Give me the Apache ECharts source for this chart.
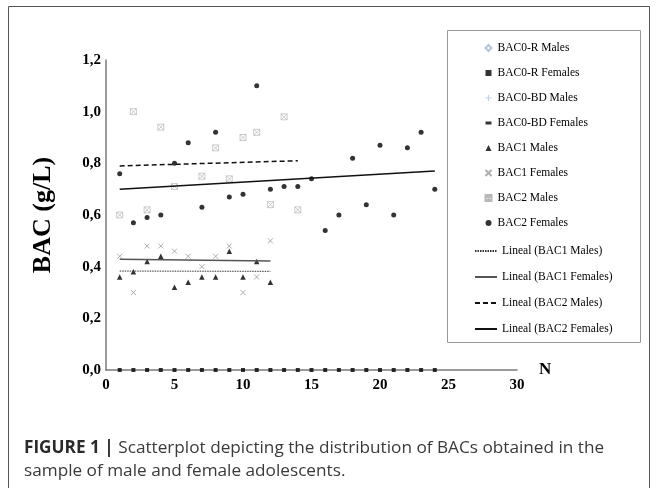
<!DOCTYPE html>
<html>
<head>
<meta charset="utf-8">
<script src="https://cdn.jsdelivr.net/npm/echarts@6/dist/echarts.min.js"></script>
<style>
  html, body { margin: 0; padding: 0; background: #fff; }
  #chart { width: 657px; height: 488px; }
</style>
</head>
<body>
<div id="chart"></div>
<script>
// N (participant index) per group
const nBac1 = [1, 2, 3, 4, 5, 6, 7, 8, 9, 10, 11, 12];
const nBac2Males = [1, 2, 3, 4, 5, 7, 8, 9, 10, 11, 12, 13, 14];
const nBac2Females = [1, 2, 3, 4, 5, 6, 7, 8, 9, 10, 11, 12, 13, 14, 15, 16, 17, 18, 19, 20, 21, 22, 23, 24];

// BAC values (g/L)
const bac0RFemales = [0, 0, 0, 0, 0, 0, 0, 0, 0, 0, 0, 0, 0, 0, 0, 0, 0, 0, 0, 0, 0, 0, 0, 0];
const bac1Males = [0.36, 0.38, 0.42, 0.44, 0.32, 0.34, 0.36, 0.36, 0.46, 0.36, 0.42, 0.34];
const bac1Females = [0.44, 0.30, 0.48, 0.48, 0.46, 0.44, 0.40, 0.44, 0.48, 0.30, 0.36, 0.50];
const bac2Males = [0.60, 1.00, 0.62, 0.94, 0.71, 0.75, 0.86, 0.74, 0.90, 0.92, 0.64, 0.98, 0.62];
const bac2Females = [0.76, 0.57, 0.59, 0.60, 0.80, 0.88, 0.63, 0.92, 0.67, 0.68, 1.10, 0.70, 0.71, 0.71,
                     0.74, 0.54, 0.60, 0.82, 0.64, 0.87, 0.60, 0.86, 0.92, 0.70];

// linear trend lines ("Lineal"), end points
const trendBac1Males = [[1, 0.383], [12, 0.382]];
const trendBac1Females = [[1, 0.429], [12, 0.422]];
const trendBac2Males = [[1, 0.79], [14, 0.81]];
const trendBac2Females = [[1, 0.70], [24, 0.77]];

const markerNames = ['BAC0-R Males', 'BAC0-R Females', 'BAC0-BD Males', 'BAC0-BD Females',
                     'BAC1 Males', 'BAC1 Females', 'BAC2 Males', 'BAC2 Females'];
const trendNames = ['Lineal (BAC1 Males)', 'Lineal (BAC1 Females)', 'Lineal (BAC2 Males)', 'Lineal (BAC2 Females)'];

const xTicks = { min: 0, max: 30, interval: 5 };
const yTicks = { min: 0, max: 1.2, interval: 0.2 };

const pts = (xs, ys) => xs.map((x, i) => [x, ys[i]]);

const serif = 'Liberation Serif';
const crossPath = 'path://M0,0L10,10M10,0L0,10';
const boxCrossPath = 'path://M0,0L10,10M10,0L0,10M0,0L10,0L10,10L0,10Z';
const legendText = { fontFamily: serif, fontSize: 11.5, color: '#000' };

const chart = echarts.init(document.getElementById('chart'));

chart.setOption({
    animation: false,
    backgroundColor: '#fff',
    grid: { left: 106, right: 140, top: 60, bottom: 118 },
    xAxis: {
        type: 'value',
        min: xTicks.min,
        max: xTicks.max,
        interval: xTicks.interval,
        name: 'N',
        nameGap: 22,
        nameTextStyle: { fontFamily: serif, fontWeight: 'bold', fontSize: 17, color: '#000', padding: [0, 0, 8, 0] },
        axisLine: { onZero: false, lineStyle: { color: '#7a7a7a', width: 1.5 } },
        axisTick: { show: false },
        splitLine: { show: false },
        axisLabel: { fontFamily: serif, fontWeight: 'bold', fontSize: 15, color: '#000', margin: 8 }
    },
    yAxis: {
        type: 'value',
        min: yTicks.min,
        max: yTicks.max,
        interval: yTicks.interval,
        name: 'BAC (g/L)',
        nameLocation: 'middle',
        nameGap: 50,
        nameTextStyle: { fontFamily: serif, fontWeight: 'bold', fontSize: 26, color: '#000' },
        axisLine: { show: true, lineStyle: { color: '#7a7a7a', width: 1.5 } },
        axisTick: { show: false },
        splitLine: { show: false },
        axisLabel: {
            fontFamily: serif, fontWeight: 'bold', fontSize: 15, color: '#000', margin: 5,
            formatter: (v) => v.toFixed(1).replace('.', ',')
        }
    },
    legend: [
        {
            orient: 'vertical',
            left: 478,
            top: 37,
            itemWidth: 6,
            itemHeight: 6,
            itemGap: 13,
            textStyle: Object.assign({ padding: [0, 0, 0, 1] }, legendText),
            data: markerNames
        },
        {
            orient: 'vertical',
            left: 469,
            top: 240,
            itemWidth: 22,
            itemHeight: 6,
            itemGap: 14,
            itemStyle: { opacity: 0 },
            textStyle: legendText,
            data: trendNames
        }
    ],
    graphic: [
        {
            type: 'rect', silent: true,
            shape: { x: 8.5, y: 6.5, width: 641, height: 500 },
            style: { fill: 'none', stroke: '#555', lineWidth: 1 }
        },
        {
            type: 'rect', silent: true,
            shape: { x: 447.5, y: 30.5, width: 193, height: 312 },
            style: { fill: 'none', stroke: '#9a9a9a', lineWidth: 1 }
        },
        {
            type: 'text', left: 24, top: 436, silent: true,
            style: {
                text: '{b|FIGURE 1 |} Scatterplot depicting the distribution of BACs obtained in the\nsample of male and female adolescents.',
                fontFamily: 'Open Sans', fontSize: 17.2, lineHeight: 23.5, fill: '#3a3a3a',
                rich: { b: { fontFamily: 'Open Sans', fontSize: 17.2, fontWeight: 'bold', fill: '#2a2a2a' } }
            }
        }
    ],
    series: [
        {
            name: markerNames[0], type: 'scatter', symbol: 'diamond', symbolSize: 5, data: [],
            itemStyle: { color: '#fff', borderColor: '#9fb6d6', borderWidth: 1 }
        },
        {
            name: markerNames[1], type: 'scatter', symbol: 'rect', symbolSize: 4,
            data: pts(nBac2Females, bac0RFemales), itemStyle: { color: '#000' }
        },
        {
            name: markerNames[2], type: 'scatter', symbol: 'path://M4,0L6,0L6,4L10,4L10,6L6,6L6,10L4,10L4,6L0,6L0,4L4,4Z',
            symbolSize: 6, data: [], itemStyle: { color: '#b4c6e0' }
        },
        {
            name: markerNames[3], type: 'scatter', symbol: 'path://M0,0L10,0L10,5L0,5Z',
            symbolSize: [5, 2], data: [], itemStyle: { color: '#000' }
        },
        {
            name: markerNames[4], type: 'scatter', symbol: 'triangle', symbolSize: 5.5,
            data: pts(nBac1, bac1Males), itemStyle: { color: '#000' }
        },
        {
            name: markerNames[5], type: 'scatter', symbol: crossPath, symbolSize: 5,
            data: pts(nBac1, bac1Females),
            itemStyle: { color: 'none', borderColor: '#9a9a9a', borderWidth: 1 }
        },
        {
            name: markerNames[6], type: 'scatter', symbol: boxCrossPath, symbolSize: 6,
            data: pts(nBac2Males, bac2Males),
            itemStyle: { color: 'none', borderColor: '#a6a6a6', borderWidth: 0.7 }
        },
        {
            name: markerNames[7], type: 'scatter', symbol: 'circle', symbolSize: 5,
            data: pts(nBac2Females, bac2Females), itemStyle: { color: '#000' }
        },
        {
            name: trendNames[0], type: 'line', data: trendBac1Males, symbol: 'none',
            itemStyle: { color: '#333' }, lineStyle: { color: '#333', width: 1, type: [1.5, 1] }
        },
        {
            name: trendNames[1], type: 'line', data: trendBac1Females, symbol: 'none',
            itemStyle: { color: '#555' }, lineStyle: { color: '#555', width: 1.5, type: 'solid' }
        },
        {
            name: trendNames[2], type: 'line', data: trendBac2Males, symbol: 'none',
            itemStyle: { color: '#111' }, lineStyle: { color: '#111', width: 1.5, type: [5, 3] }
        },
        {
            name: trendNames[3], type: 'line', data: trendBac2Females, symbol: 'none',
            itemStyle: { color: '#111' }, lineStyle: { color: '#111', width: 1.5, type: 'solid' }
        }
    ]
});
</script>
</body>
</html>
